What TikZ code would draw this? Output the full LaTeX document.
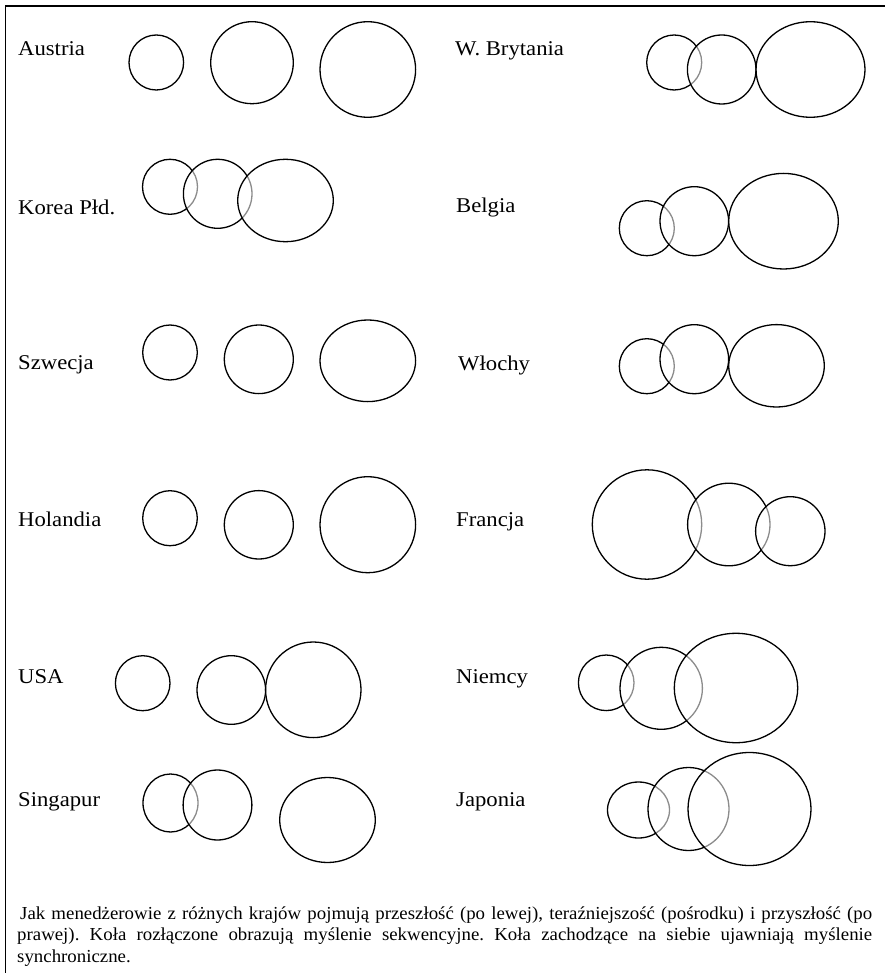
\documentclass[tikz,border=0pt]{standalone}
\usepackage{fontspec}
\setmainfont{Liberation Serif}
\newfontfamily\labelfont{Liberation Serif}[FakeStretch=1.08]
\newfontfamily\notefont{Liberation Serif}[FakeStretch=1.03]
\frenchspacing
\begin{document}
\begin{tikzpicture}[x=1pt,y=-1pt,
  ring/.style={draw=black,line width=1.3pt,fill=white,fill opacity=0.55},
  country/.style={anchor=base west,inner sep=0pt,font=\labelfont\fontsize{21}{25}\selectfont},
  note/.style={anchor=base west,inner sep=0pt,align=justify,text width=855pt,
    font=\notefont\fontsize{18.3}{21.5}\selectfont}]
\useasboundingbox (0,0) rectangle (885,973);
% frame
\draw[line width=1.5pt] (5.5,973) -- (5.5,6) -- (885,6);

% left column
\node[country] (at) at (18,56) {Austria};
\draw[ring] (156.3,62.5) ellipse [x radius=27.3,y radius=27.5];
\draw[ring] (252,62.7) ellipse [x radius=41.3,y radius=41];
\draw[ring] (367.8,69.5) ellipse [x radius=47.8,y radius=47.8];

\node[country] (kr) at (18,215) {Korea Płd.};
\draw[ring] (170,186.8) ellipse [x radius=27.5,y radius=27.5];
\draw[ring] (217.7,193.8) ellipse [x radius=34.3,y radius=34.5];
\draw[ring] (285.5,200.5) ellipse [x radius=47.8,y radius=41.2];

\node[country] (se) at (18,369) {Szwecja};
\draw[ring] (170,352.5) ellipse [x radius=27.3,y radius=27.5];
\draw[ring] (258.8,359.3) ellipse [x radius=34.5,y radius=34.3];
\draw[ring] (367.8,360.8) ellipse [x radius=47.8,y radius=40.8];

\node[country] (nl) at (18,526) {Holandia};
\draw[ring] (170,518.2) ellipse [x radius=27.3,y radius=27.5];
\draw[ring] (258.8,524.8) ellipse [x radius=34.5,y radius=34.2];
\draw[ring] (367.8,524.7) ellipse [x radius=47.8,y radius=48];

\node[country] (us) at (18,683) {USA};
\draw[ring] (142.7,683.2) ellipse [x radius=27.3,y radius=27.5];
\draw[ring] (231.3,690) ellipse [x radius=34.3,y radius=34.3];
\draw[ring] (313.3,689.8) ellipse [x radius=47.7,y radius=47.8];

\node[country] (sg) at (18,806) {Singapur};
\draw[ring] (170.5,803) ellipse [x radius=27.5,y radius=29];
\draw[ring] (217.5,805) ellipse [x radius=34.4,y radius=35];
\draw[ring] (327.5,820) ellipse [x radius=47.8,y radius=42.5];

% right column
\node[country] (gb) at (455,56) {W. Brytania};
\draw[ring] (674.2,62.5) ellipse [x radius=27.5,y radius=27.5];
\draw[ring] (721.7,69.5) ellipse [x radius=34.3,y radius=34.5];
\draw[ring] (810.5,69.5) ellipse [x radius=54.5,y radius=47.8];

\node[country] (be) at (456,213) {Belgia};
\draw[ring] (646.8,228.2) ellipse [x radius=27.5,y radius=27.5];
\draw[ring] (694.3,221.2) ellipse [x radius=34.3,y radius=34.5];
\draw[ring] (783.5,221.2) ellipse [x radius=54.8,y radius=47.8];

\node[country] (it) at (458,370) {Włochy};
\draw[ring] (646.8,366.2) ellipse [x radius=27.5,y radius=27.5];
\draw[ring] (694.3,359.2) ellipse [x radius=34.3,y radius=34.5];
\draw[ring] (776.5,365.8) ellipse [x radius=47.8,y radius=41.2];

\node[country] (fr) at (456,526) {Francja};
\draw[ring] (647,524.5) ellipse [x radius=54.7,y radius=54.7];
\draw[ring] (728.8,524.5) ellipse [x radius=41.2,y radius=41.3];
\draw[ring] (790.3,531.2) ellipse [x radius=34.7,y radius=34.5];

\node[country] (de) at (456,683) {Niemcy};
\draw[ring] (606.2,682.8) ellipse [x radius=27.8,y radius=27.8];
\draw[ring] (661.2,688.3) ellipse [x radius=41.2,y radius=41];
\draw[ring] (736,688) ellipse [x radius=61.7,y radius=54.7];

\node[country] (jp) at (456,806) {Japonia};
\draw[ring] (638.5,810) ellipse [x radius=31,y radius=28];
\draw[ring] (688.5,809) ellipse [x radius=40.5,y radius=41.5];
\draw[ring] (749.5,809) ellipse [x radius=61.5,y radius=56.5];

% caption
\node[note] (cap) at (17,919) {\hspace*{3pt}Jak menedżerowie z różnych krajów pojmują przeszłość (po lewej), teraźniejszość (pośrodku) i przyszłość (po\linebreak
prawej). Koła rozłączone obrazują myślenie sekwencyjne. Koła zachodzące na siebie ujawniają myślenie\linebreak
synchroniczne.};
\end{tikzpicture}
\end{document}
